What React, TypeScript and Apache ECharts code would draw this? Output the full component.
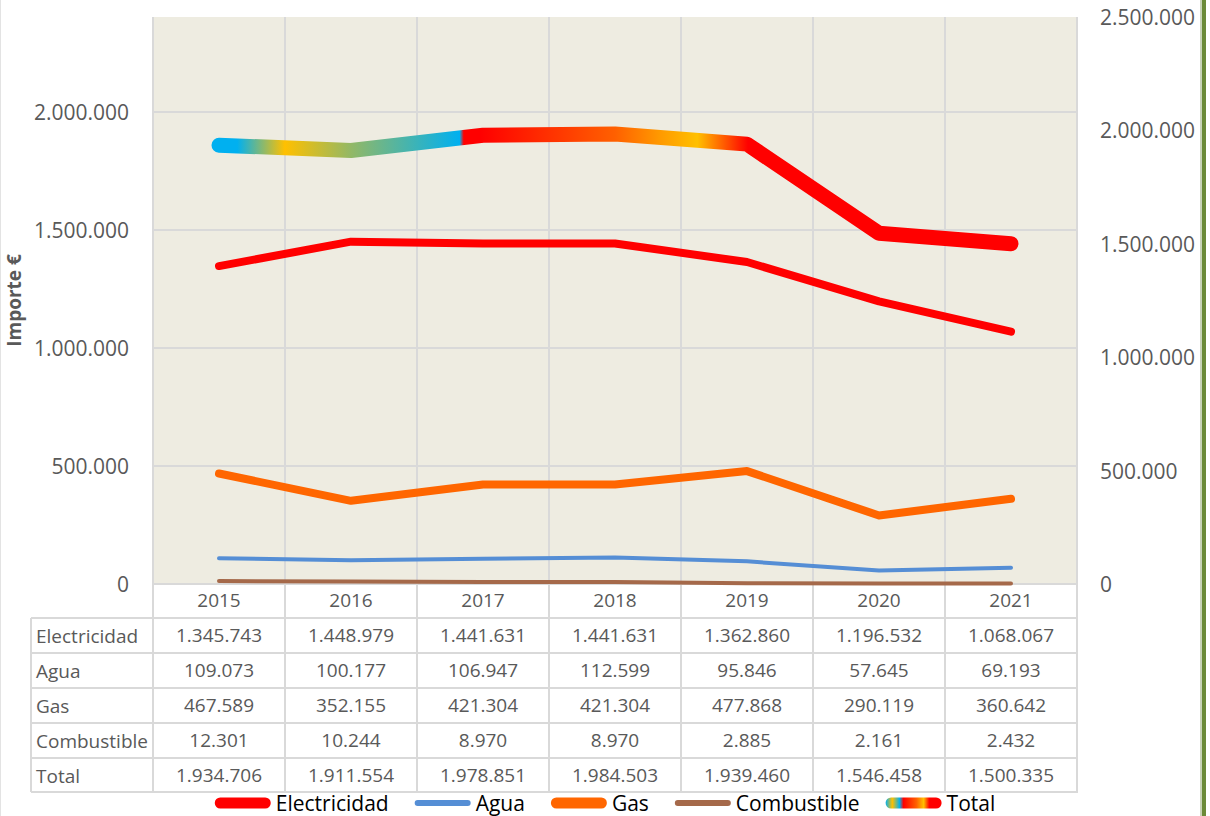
import React, { useEffect, useRef } from "react";
import * as echarts from "echarts";

const years = ["2015", "2016", "2017", "2018", "2019", "2020", "2021"];
const electricidad = [1345743, 1448979, 1441631, 1441631, 1362860, 1196532, 1068067];
const agua = [109073, 100177, 106947, 112599, 95846, 57645, 69193];
const gas = [467589, 352155, 421304, 421304, 477868, 290119, 360642];
const combustible = [12301, 10244, 8970, 8970, 2885, 2161, 2432];
const total = [1934706, 1911554, 1978851, 1984503, 1939460, 1546458, 1500335];
const seriesNames = ["Electricidad", "Agua", "Gas", "Combustible", "Total"];
const leftTicks = { min: 0, max: 2400000, interval: 500000 };
const rightTicks = { min: 0, max: 2500000, interval: 500000 };

const FONT = "'Open Sans', 'Noto Sans', sans-serif";
const GRAY = "#595959";
const LINE = "#D9D9D9";

const fmt = (n: number) => String(n).replace(/\B(?=(\d{3})+(?!\d))/g, ".");

const totalStops = [
  { offset: 0, color: "#00B0F0" },
  { offset: 0.023, color: "#00B0F0" },
  { offset: 0.083, color: "#FFC000" },
  { offset: 0.167, color: "#92B866" },
  { offset: 0.304, color: "#00B0F0" },
  { offset: 0.309, color: "#FF0000" },
  { offset: 0.33, color: "#FF0000" },
  { offset: 0.5, color: "#FF6000" },
  { offset: 0.556, color: "#FF9900" },
  { offset: 0.604, color: "#FFC000" },
  { offset: 0.668, color: "#FF0000" },
  { offset: 1, color: "#FF0000" },
];

export default function App() {
  const ref = useRef<HTMLDivElement>(null);
  useEffect(() => {
    if (!ref.current) return;
    const chart = echarts.init(ref.current, undefined, { renderer: "svg" });

    const plotLeft = 153;
    const plotRight = 1210 - 1077;
    const plotTop = 17;
    const plotHeight = 567;
    const rowTops = [618, 653, 688, 723, 758];
    const rowH = 35;
    const tableLeft = 31;
    const tableRight = 1077;

    const rows = [electricidad, agua, gas, combustible, total];

    const grids: any[] = [
      {
        left: plotLeft,
        right: plotRight,
        top: plotTop,
        height: plotHeight,
        show: true,
        backgroundColor: "#EEECE1",
        borderWidth: 0,
        containLabel: false,
        outerBoundsMode: "none",
      },
    ];
    const xAxes: any[] = [
      {
        type: "category",
        gridIndex: 0,
        data: years,
        boundaryGap: true,
        axisLine: { show: true, lineStyle: { color: LINE, width: 2 } },
        axisTick: { show: true, interval: 0, length: 34, lineStyle: { color: LINE, width: 2 } },
        axisLabel: { color: GRAY, fontSize: 19, fontFamily: FONT, margin: 6 },
        splitLine: { show: true, interval: 0, lineStyle: { color: LINE, width: 2 } },
      },
    ];
    const yAxes: any[] = [
      {
        type: "value",
        gridIndex: 0,
        position: "left",
        ...leftTicks,
        name: "Importe €",
        nameLocation: "middle",
        nameGap: 119,
        nameRotate: 90,
        nameTextStyle: { color: GRAY, fontSize: 19, fontWeight: "bold", fontFamily: FONT },
        axisLine: { show: false },
        axisTick: { show: false },
        axisLabel: {
          color: GRAY,
          fontSize: 21,
          fontFamily: FONT,
          margin: 24,
          showMaxLabel: false,
          formatter: (v: number) => (v % 500000 === 0 ? fmt(v) : ""),
        },
        splitLine: { show: true, showMaxLine: false, lineStyle: { color: LINE, width: 2 } },
      },
      {
        type: "value",
        gridIndex: 0,
        position: "right",
        ...rightTicks,
        axisLine: { show: false },
        axisTick: { show: false },
        axisLabel: { color: GRAY, fontSize: 21, fontFamily: FONT, margin: 23, formatter: (v: number) => fmt(v) },
        splitLine: { show: false },
      },
    ];

    rows.forEach((vals, i) => {
      grids.push({
        left: plotLeft,
        right: plotRight,
        top: rowTops[i],
        height: rowH,
        containLabel: false,
        outerBoundsMode: "none",
      });
      xAxes.push({
        type: "category",
        gridIndex: i + 1,
        position: "top",
        data: vals.map(fmt),
        boundaryGap: true,
        axisLine: { show: false },
        axisTick: { show: true, inside: true, interval: 0, length: rowH, lineStyle: { color: LINE, width: 2 } },
        axisLabel: {
          inside: true,
          interval: 0,
          margin: 17,
          verticalAlign: "middle",
          color: GRAY,
          fontSize: 19,
          fontFamily: FONT,
        },
        splitLine: { show: false },
      });
      yAxes.push({
        type: "category",
        gridIndex: i + 1,
        data: [seriesNames[i]],
        axisLine: { show: false },
        axisTick: { show: false },
        axisLabel: { align: "left", margin: plotLeft - 36, color: GRAY, fontSize: 19, fontFamily: FONT },
        splitLine: { show: false },
      });
    });

    const graphicEls: any[] = [];
    [...rowTops, rowTops[rowTops.length - 1] + rowH - 1].forEach((y) => {
      graphicEls.push({
        type: "line",
        shape: { x1: tableLeft, y1: y, x2: tableRight, y2: y },
        style: { stroke: LINE, lineWidth: 2 },
      });
    });
    graphicEls.push({
      type: "line",
      shape: { x1: tableLeft, y1: rowTops[0], x2: tableLeft, y2: rowTops[rowTops.length - 1] + rowH - 1 },
      style: { stroke: LINE, lineWidth: 2 },
    });
    graphicEls.push({ type: "rect", shape: { x: 1202, y: 0, width: 4, height: 816 }, style: { fill: "#6B8A38" } });
    graphicEls.push({ type: "rect", shape: { x: 1200, y: 0, width: 2, height: 816 }, style: { fill: "#C8D2B8" } });
    graphicEls.push({ type: "rect", shape: { x: 0, y: 0, width: 1, height: 816 }, style: { fill: "#E3E3E3" } });

    const totalGrad = new echarts.graphic.LinearGradient(0, 0, 1, 0, totalStops);
    const legendGrad = new echarts.graphic.LinearGradient(0, 0, 1, 0, [
      { offset: 0, color: "#00B0F0" },
      { offset: 0.12, color: "#FFC000" },
      { offset: 0.25, color: "#00B0F0" },
      { offset: 0.32, color: "#FF0000" },
      { offset: 0.55, color: "#FF6000" },
      { offset: 0.68, color: "#FFC000" },
      { offset: 0.78, color: "#FF0000" },
      { offset: 1, color: "#FF0000" },
    ]);

    const thick = "path://M5.5,0H50.5A5.5,5.5,0,0,1,50.5,11H5.5A5.5,5.5,0,0,1,5.5,0Z";
    const thin = "path://M3,0H53A3,3,0,0,1,53,6H3A3,3,0,0,1,3,0Z";

    const mk = (name: string, data: number[], color: any, width: number, yAxisIndex = 0) => ({
      type: "line",
      name,
      data,
      xAxisIndex: 0,
      yAxisIndex,
      symbol: "none",
      showSymbol: false,
      lineStyle: { color, width, cap: "round", join: "round" },
      itemStyle: { color },
      emphasis: { disabled: true },
    });

    chart.setOption({
      animation: false,
      textStyle: { fontFamily: FONT },
      grid: grids,
      xAxis: xAxes,
      yAxis: yAxes,
      graphic: graphicEls,
      legend: {
        top: 791,
        left: "center",
        itemWidth: 56,
        itemHeight: 11,
        itemGap: 26,
        padding: 0,
        symbolKeepAspect: true,
        selectedMode: false,
        textStyle: { color: "#000", fontSize: 21, lineHeight: 24, fontFamily: FONT },
        data: [
          { name: "Electricidad", icon: thick, itemStyle: { color: "#FF0000" } },
          { name: "Agua", icon: thin, itemStyle: { color: "#558ED5" } },
          { name: "Gas", icon: thick, itemStyle: { color: "#FF6600" } },
          { name: "Combustible", icon: thin, itemStyle: { color: "#A5694A" } },
          { name: "Total", icon: thick, itemStyle: { color: legendGrad } },
        ],
      },
      series: [
        mk("Electricidad", electricidad, "#FF0000", 8),
        mk("Agua", agua, "#558ED5", 4),
        mk("Gas", gas, "#FF6600", 8),
        mk("Combustible", combustible, "#A5694A", 4),
        mk("Total", total, totalGrad, 15, 1),
      ],
    });
    return () => chart.dispose();
  }, []);
  return (
    <div
      ref={ref}
      style={{ position: "absolute", left: 0, top: 0, width: 1210, height: 816, background: "#fff" }}
    />
  );
}
